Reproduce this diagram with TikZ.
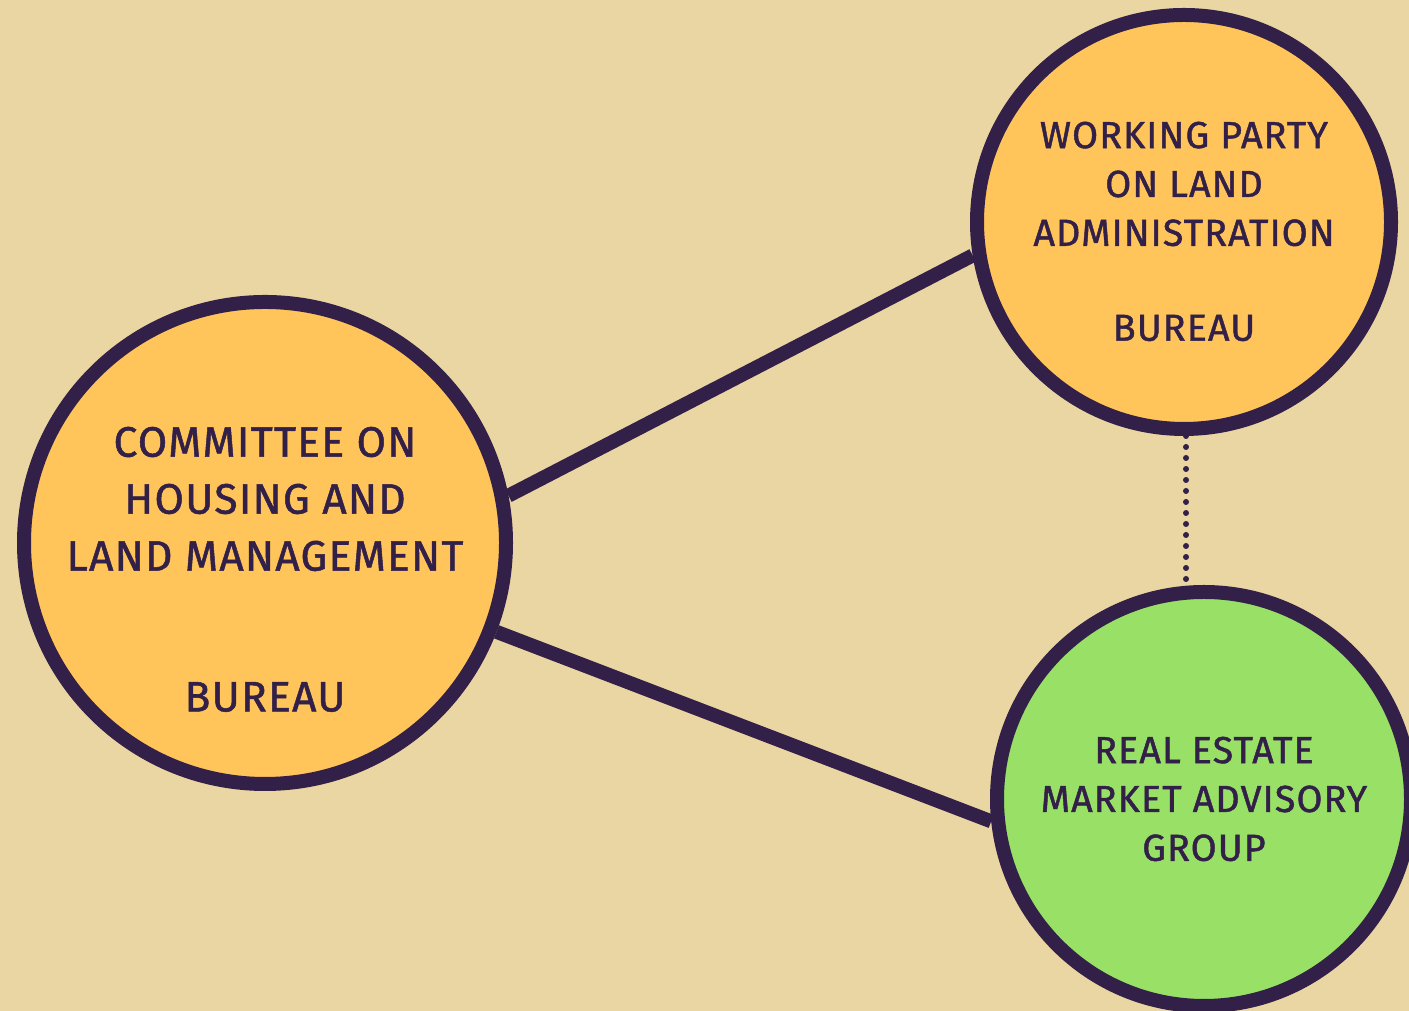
\documentclass[tikz,border=0pt]{standalone}
\usepackage{fontspec}
\setmainfont{Fira Sans}[FakeBold=1.2,LetterSpace=3]
\usetikzlibrary{backgrounds}
\definecolor{paper}{RGB}{234,214,163}
\definecolor{ink}{RGB}{50,32,72}
\definecolor{amber}{RGB}{255,197,90}
\definecolor{leaf}{RGB}{152,224,102}

\begin{document}
\begin{tikzpicture}[
  body/.style={circle,draw=ink,line width=0.14cm,inner sep=0pt},
  title/.style={text=ink,align=center,font=\fontsize{12.1}{16.2}\selectfont},
  small/.style={text=ink,align=center,font=\fontsize{10.7}{13.9}\selectfont},
  link/.style={draw=ink,line width=0.14cm}
]
\useasboundingbox (0,0) rectangle (14.09,10.11);
\clip (0,0) rectangle (14.09,10.11);
\begin{scope}[on background layer]
\fill[paper] (0,0) rectangle (14.09,10.11);
\end{scope}

\node[body,fill=amber,minimum size=4.82cm] (com) at (2.65,4.68) {};
\node[body,fill=amber,minimum size=4.14cm] (wp) at (11.84,7.89) {};
\node[body,fill=leaf,minimum size=4.14cm,small] (rem) at (12.04,2.12)
  {REAL ESTATE\\MARKET ADVISORY\\GROUP};

\node[title] (com-t) at ([yshift=0.44cm]com.center) {COMMITTEE ON\\HOUSING AND\\LAND MANAGEMENT};
\node[title] (com-b) at ([yshift=-1.54cm]com.center) {BUREAU};
\node[small] (wp-t) at ([yshift=0.38cm]wp.center) {WORKING PARTY\\ON LAND\\ADMINISTRATION};
\node[small] (wp-b) at ([yshift=-1.06cm]wp.center) {BUREAU};

\begin{scope}[on background layer]
\draw[link] (com.11) -- (wp.189);
\draw[link] (com.-21) -- (rem.186);
\draw[ink,line width=0.06cm,line cap=round,dash pattern=on 0pt off 0.11cm]
  ([xshift=0.02cm]wp.south) -- ([xshift=-0.18cm]rem.north);
\end{scope}
\end{tikzpicture}
\end{document}
